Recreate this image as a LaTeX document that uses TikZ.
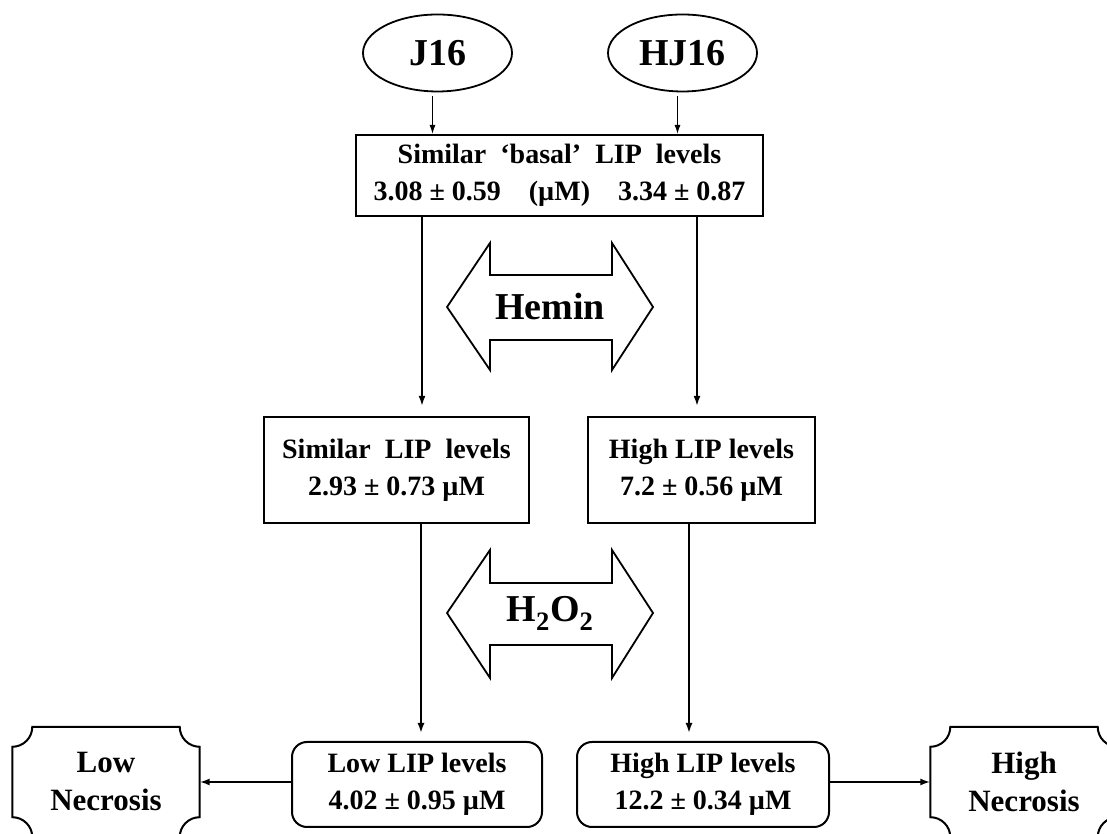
\documentclass[tikz,border=0pt]{standalone}
\usepackage{fontspec}
\setmainfont{Liberation Serif}
\usetikzlibrary{arrows.meta,shapes.geometric,positioning,calc}

\begin{document}
\begin{tikzpicture}[x=1pt,y=1pt,
  cell/.style={draw,line width=2.2pt,align=center,inner sep=0pt,font=\fontsize{28}{37}\selectfont\bfseries},
  oval/.style={draw,ellipse,line width=1.8pt,minimum width=149pt,minimum height=77pt,inner sep=0pt,font=\fontsize{38}{40}\selectfont\bfseries},
  link/.style={line width=1.8pt,-{Latex[length=10pt,width=7pt]}},
  thinlink/.style={line width=1pt,-{Latex[length=9pt,width=6pt]}},
  fat/.style={draw,line width=1.8pt,line join=miter},
  necro/.style={align=center,minimum width=187pt,minimum height=110pt,inner sep=0pt,font=\fontsize{31}{38}\selectfont\bfseries},
  tag/.style={font=\fontsize{38}{40}\selectfont\bfseries}]

  \useasboundingbox (0,0) rectangle (1107,834);

  % cell lines
  \node[oval] (j16) at (437.5,781) {J16};
  \node[oval] (hj16) at (682.5,781) {HJ16};

  \node[cell,minimum width=407pt,minimum height=81pt] (basal) at (559.5,658.5)
    {Similar~~‘basal’~~LIP~~levels\\3.08 ± 0.59~~~~(µM)~~~~3.34 ± 0.87};

  \node[cell,minimum width=265pt,minimum height=106pt] (simlip) at (396.5,364)
    {Similar~~LIP~~levels\\2.93 ± 0.73 µM};
  \node[cell,minimum width=227pt,minimum height=106pt] (highlip) at (701.5,364)
    {High LIP levels\\7.2 ± 0.56 µM};

  \node[cell,rounded corners=15pt,line width=2pt,minimum width=250pt,minimum height=85pt] (lowlip) at (417,49.5)
    {Low LIP levels\\4.02 ± 0.95 µM};
  \node[cell,rounded corners=15pt,line width=2pt,minimum width=252pt,minimum height=85pt] (toplip) at (703,49.5)
    {High LIP levels\\12.2 ± 0.34 µM};

  \node[necro] (lownec) at (106,52) {Low\\Necrosis};
  \node[necro] (highnec) at (1024,52) {High\\Necrosis};
  \foreach \n in {lownec,highnec}
    \draw[line width=2pt] ([yshift=-20pt]\n.north west) arc[start angle=-90,end angle=0,radius=20pt]
      -- ([xshift=-20pt]\n.north east) arc[start angle=180,end angle=270,radius=20pt]
      -- ([yshift=20pt]\n.south east) arc[start angle=90,end angle=180,radius=20pt]
      -- ([xshift=20pt]\n.south west) arc[start angle=0,end angle=90,radius=20pt]
      -- cycle;

  % treatments
  \draw[fat] (447,527) -- (490,591) -- (490,559) -- (612,559) -- (612,591) -- (653,527)
    -- (612,464) -- (612,494) -- (490,494) -- (490,464) -- cycle;
  \node[tag] (hemin) at (550,527) {Hemin};
  \draw[fat] (447,221) -- (490,284) -- (490,251) -- (612,251) -- (612,284) -- (653,221)
    -- (612,156) -- (612,189) -- (490,189) -- (490,156) -- cycle;
  \node[tag] (hho) at (550,221) {H\textsubscript{2}O\textsubscript{2}};

  % connectors
  \draw[thinlink] ([xshift=-5pt,yshift=-4pt]j16.south) -- ([xshift=-5pt]j16.south |- basal.north);
  \draw[thinlink] ([xshift=-5pt,yshift=-4pt]hj16.south) -- ([xshift=-5pt]hj16.south |- basal.north);
  \draw[link,shorten >=10pt] ([xshift=-137.5pt]basal.south) -- ([xshift=-137.5pt]basal.south |- simlip.north);
  \draw[link,shorten >=10pt] ([xshift=137.5pt]basal.south) -- ([xshift=137.5pt]basal.south |- highlip.north);
  \draw[link,shorten >=8pt] ([xshift=24.5pt]simlip.south) -- ([xshift=24.5pt]simlip.south |- lowlip.north);
  \draw[link,shorten >=8pt] ([xshift=-12.5pt]highlip.south) -- ([xshift=-12.5pt]highlip.south |- toplip.north);
  \draw[link] (lowlip.west |- lownec.east) -- (lownec.east);
  \draw[link] (toplip.east |- highnec.west) -- (highnec.west);
\end{tikzpicture}
\end{document}
